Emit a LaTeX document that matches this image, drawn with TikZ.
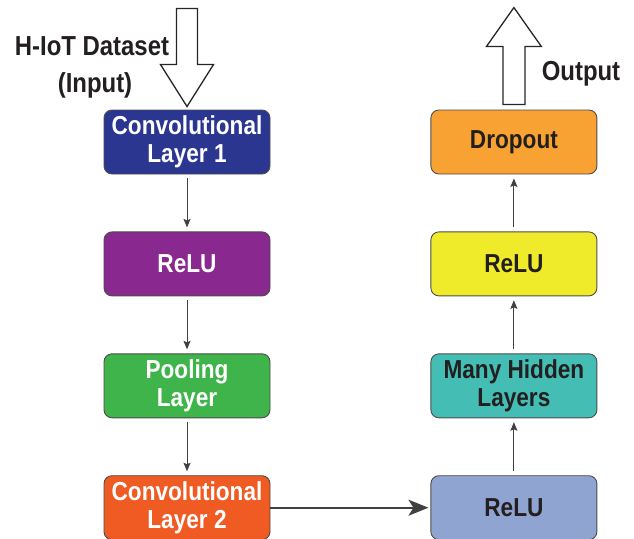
\documentclass[tikz,border=0pt]{standalone}
\usepackage{fontspec}
\setmainfont{Liberation Sans}[FakeStretch=0.87]
\usetikzlibrary{positioning,arrows.meta,calc}

\definecolor{convblue}{RGB}{43,54,145}
\definecolor{relupurple}{RGB}{137,40,143}
\definecolor{poolgreen}{RGB}{62,180,74}
\definecolor{convorange}{RGB}{240,90,35}
\definecolor{reluslate}{RGB}{143,164,209}
\definecolor{hiddenteal}{RGB}{68,190,180}
\definecolor{reluyellow}{RGB}{240,235,42}
\definecolor{droporange}{RGB}{247,162,51}
\definecolor{textdark}{RGB}{35,31,32}

\begin{document}
\begin{tikzpicture}[%
    x=1pt,
    y=-1pt,
    ->,
    shorten >=4pt,
    shorten <=4pt,
    >={Stealth[length=8.5pt,width=7pt,inset=1.5pt]},
    line width=0.9pt,
    draw=black!75,
    node distance=57pt and 160pt,
    layer/.style={%
      rectangle,
      rounded corners=8pt,
      minimum width=166pt,
      minimum height=64pt,
      draw=black!70,
      text=textdark,
      align=center,
      font=\fontsize{26}{28}\selectfont\bfseries
    },
    tag/.style={%
      text=textdark,
      font=\fontsize{27.5}{30}\selectfont\bfseries
    },
    bigarrow/.style={%
      -,
      draw=black!85,
      line width=1.3pt,
      fill=white
    }
  ]
    \useasboundingbox (0,0) rectangle (634,538);

    \node[layer, fill=convblue, text=white] (conv1) at (187,142) {Convolutional\\Layer 1};
    \node[layer, fill=relupurple, text=white] (relu1) [below=of conv1] {ReLU};
    \node[layer, fill=poolgreen, text=white] (pool) [below=of relu1] {Pooling\\Layer};
    \node[layer, fill=convorange, text=white] (conv2) [below=of pool] {Convolutional\\Layer 2};
    \node[layer, fill=reluslate] (relu2) [right=of conv2] {ReLU};
    \node[layer, fill=hiddenteal] (hidden) [above=of relu2] {Many Hidden\\Layers};
    \node[layer, fill=reluyellow] (relu3) [above=of hidden] {ReLU};
    \node[layer, fill=droporange] (drop) [above=of relu3] {Dropout};

    \node[tag] (dataset) at (92,46) {H-IoT Dataset};
    \node[tag] (input) at (95,85) {(Input)};
    \node[tag] (output) at (581,74) {Output};

    % hollow arrows in and out
    \coordinate (intip) at ($(conv1.north)+(0,-3)$);
    \draw[bigarrow] (intip) -- ++(-26.5,-42) -- ++(16,0) -- ++(0,-56)
      -- ++(21,0) -- ++(0,56) -- ++(16,0) -- cycle;
    \coordinate (outbase) at ($(drop.north)+(0,-5)$);
    \draw[bigarrow] ($(outbase)+(-11,0)$) -- ++(0,-58) -- ++(-16.5,0)
      -- ++(27.5,-39) -- ++(27.5,39) -- ++(-16.5,0) -- ++(0,58) -- cycle;

    \path (conv1) edge (relu1)
          (relu1) edge (pool)
          (pool) edge (conv2)
          (relu2) edge (hidden)
          (hidden) edge (relu3)
          (relu3) edge (drop);
    \path (conv2) edge[line width=1.6pt, shorten <=0pt, shorten >=2pt,
          -{Stealth[length=20pt,width=16pt,inset=5pt]}] (relu2);
\end{tikzpicture}
\end{document}
